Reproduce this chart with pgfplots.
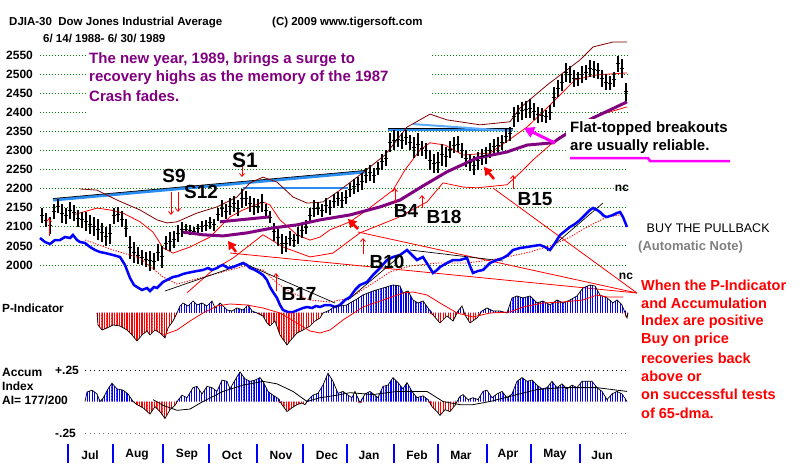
\documentclass[border=0pt]{standalone}
\usepackage{fontspec}
\setmainfont{Liberation Sans}
\usepackage{pgfplots}
\usepackage{pgfplotstable}
\pgfplotsset{compat=1.18}
\usetikzlibrary{arrows.meta,patterns}
\pgfdeclarepatternformonly{vlines}{\pgfqpoint{-0.8pt}{-0.6pt}}{\pgfqpoint{0.8pt}{3.6pt}}{\pgfqpoint{2.5pt}{3pt}}{%
 \pgfsetlinewidth{1.25pt}\pgfpathmoveto{\pgfqpoint{0pt}{-0.6pt}}\pgfpathlineto{\pgfqpoint{0pt}{3.6pt}}\pgfusepath{stroke}}
\definecolor{grd}{RGB}{0,128,0}
\definecolor{stb}{RGB}{40,140,240}
\definecolor{stb2}{RGB}{90,170,255}
\definecolor{pur}{RGB}{128,0,128}
\definecolor{mar}{RGB}{128,0,0}
\definecolor{mag}{RGB}{255,0,255}
\definecolor{ib}{RGB}{0,0,255}
\definecolor{gtx}{RGB}{128,128,128}
\newcommand\fs[1]{\fontsize{#1bp}{#1bp}\selectfont}
\pgfplotsset{ov/.style={at={(0,0)},anchor=south west,scale only axis,width=800bp,height=465bp,
  xmin=0,xmax=800,hide axis,clip=false,unbounded coords=jump},
  pix/.style={ov,ymin=0,ymax=465,y dir=reverse}}

\pgfplotstableread{
x h l
42 2150 2110
46 2135 2100
50 2125 2080
54 2160 2120
58 2172 2135
62 2160 2110
66 2150 2108
70 2166 2120
74 2158 2115
78 2145 2100
82 2140 2098
86 2140 2090
90 2130 2082
94 2126 2075
98 2120 2066
102 2110 2060
106 2100 2050
110 2108 2055
114 2150 2108
118 2153 2112
122 2140 2100
126 2120 2073
130 2075 2015
134 2060 2005
138 2046 2002
142 2040 2000
146 2035 1995
150 2037 1985
154 2030 1988
158 2055 2010
162 2050 1993
166 2075 2040
170 2086 2037
174 2090 2045
178 2105 2060
182 2113 2073
186 2108 2080
190 2105 2078
194 2100 2078
198 2108 2082
202 2115 2086
206 2117 2090
210 2126 2095
214 2120 2090
218 2150 2115
222 2170 2125
226 2160 2120
230 2175 2130
234 2180 2140
238 2170 2128
242 2200 2150
246 2195 2155
250 2180 2140
254 2175 2130
258 2172 2135
262 2185 2140
266 2160 2126
270 2140 2110
274 2110 2064
278 2095 2050
282 2082 2029
286 2075 2035
290 2090 2050
294 2080 2046
298 2100 2055
302 2110 2070
306 2117 2080
310 2150 2110
314 2170 2125
318 2165 2130
322 2160 2125
326 2175 2135
330 2170 2130
334 2185 2150
338 2192 2155
342 2190 2150
346 2196 2160
350 2215 2178
354 2225 2185
358 2230 2190
362 2240 2195
366 2255 2215
370 2262 2220
374 2255 2215
378 2270 2235
382 2290 2250
386 2300 2260
390 2345 2295
394 2353 2300
398 2350 2310
402 2345 2305
406 2353 2315
410 2340 2300
414 2335 2280
418 2345 2285
422 2325 2285
426 2320 2278
430 2300 2250
434 2290 2240
438 2295 2242
442 2318 2260
446 2310 2257
450 2325 2280
454 2335 2293
458 2338 2295
462 2320 2280
466 2300 2257
470 2290 2245
474 2285 2235
478 2295 2250
482 2305 2262
486 2310 2265
490 2320 2280
494 2330 2290
498 2335 2293
502 2340 2300
506 2355 2320
510 2362 2325
514 2414 2362
518 2420 2375
522 2427 2380
526 2430 2385
530 2435 2385
534 2425 2380
538 2414 2372
542 2410 2375
546 2405 2372
550 2420 2380
554 2466 2414
558 2485 2440
562 2500 2455
566 2530 2480
570 2520 2477
574 2510 2466
578 2505 2470
582 2520 2477
586 2525 2485
590 2537 2492
594 2533 2490
598 2530 2488
602 2510 2465
606 2500 2458
610 2495 2458
614 2505 2465
618 2548 2505
622 2540 2490
626 2477 2430
}\bars

\pgfplotstableread{
x p
97 0
98 -12
102 -17
107 -15
113 -12
120 -13
127 -17
132 -22
137 -28
142 -22
147 -18
150 -22
155 -17
160 -20
165 -25
168 -15
173 -8
177 0
180 7
183 10
188 7
193 12
197 8
202 10
207 7
212 12
215 5
220 10
227 3
232 2
237 5
243 3
248 8
252 2
257 0
263 -3
267 -10
270 -13
275 -8
280 -22
287 -32
290 -28
297 -20
303 -17
310 -13
315 -8
320 -5
323 0
330 3
335 7
340 7
347 8
350 10
357 14
363 18
373 22
383 25
393 28
400 27
403 20
408 22
413 13
418 10
423 12
428 5
433 -2
440 -10
447 -3
453 -8
458 2
462 7
465 -2
470 -10
477 -5
482 2
487 5
493 2
500 2
507 0
512 15
517 17
523 15
530 17
537 10
543 12
550 8
557 13
563 10
570 13
577 17
583 25
590 28
595 27
600 18
607 15
613 10
617 13
622 8
627 -5
628 0
}\pind

\pgfplotstableread{
x a
85 0
87 0.075
92 0.09
97 0.06
100 0
103 0.025
108 0.1
112 0.145
117 0.1
123 0.09
128 0.06
133 0
137 -0.025
143 -0.05
150 -0.1
155 -0.04
160 -0.08
165 -0.135
170 -0.065
175 -0.03
178 0.01
182 0.05
187 0.03
193 0.11
197 0.12
202 0.06
207 0.12
212 0.11
217 0.08
222 0.17
227 0.16
230 0.1
235 0.17
240 0.235
245 0.18
250 0.16
255 0.17
260 0.19
263 0.16
268 0.08
273 0.05
278 0.025
282 -0.025
287 -0.08
292 -0.05
297 -0.025
302 -0.012
305 -0.025
308 0.012
313 0.05
318 0.065
323 0.13
328 0.225
333 0.16
338 0.065
343 0.08
348 0.05
352 0.03
355 0.08
360 -0.01
365 0.06
370 0.08
378 0.03
383 0.12
388 0.13
393 0.19
398 0.15
403 0.1
407 0.15
412 0.08
417 0.03
423 0.045
428 0.015
432 -0.04
437 -0.08
440 -0.11
445 -0.065
450 -0.08
455 -0.03
460 0.04
463 0.055
468 0.015
473 0.03
478 0.015
483 0.08
487 0.09
492 0.03
497 0.06
502 0.08
507 0.03
512 0.06
517 0.16
522 0.19
527 0.16
532 0.17
537 0.13
542 0.1
547 0.11
552 0.16
557 0.11
562 0.14
567 0.1
572 0.13
577 0.11
582 0.16
587 0.16
592 0.16
597 0.11
602 0.08
607 0.015
612 0.06
617 0.08
622 0.06
627 0
}\aind

\begin{document}
\begin{tikzpicture}
\useasboundingbox (0,0) rectangle (800bp,465bp);
% ---------------- price axis ----------------
\begin{axis}[ov,ymin=1476,ymax=2694]
\addplot[grd,line width=0.8bp,dash pattern=on 1bp off 2bp] coordinates {
(40,2000) (628,2000) (628,nan) (40,2050) (628,2050) (628,nan) (40,2100) (628,2100) (628,nan)
(40,2150) (628,2150) (628,nan) (40,2200) (628,2200) (628,nan) (40,2250) (628,2250) (628,nan)
(40,2300) (628,2300) (628,nan) (40,2350) (628,2350) (628,nan)
(40,2400) (88,2400) (88,nan) (432,2400) (628,2400) (628,nan)
(40,2450) (88,2450) (88,nan) (432,2450) (628,2450) (628,nan)
(40,2500) (88,2500) (88,nan) (432,2500) (628,2500) (628,nan)
(40,2550) (88,2550) (88,nan) (432,2550) (628,2550)};
\addplot[stb,line width=3bp] coordinates {(53,2170) (367,2244)};
\addplot[black,line width=0.7bp] coordinates {(53,2174) (367,2248)};
\addplot[stb,line width=2.5bp] coordinates {(243,2202) (348,2202)};
\addplot[stb,line width=2.5bp] coordinates {(388,2354) (513,2354)};
\addplot[black,line width=0.7bp] coordinates {(388,2357) (513,2357)};
\addplot[stb2,line width=2bp] coordinates {(413,2369) (510,2351)};
\addplot[mar,line width=0.8bp] coordinates {(80,2199) (97,2196) (117,2170) (140,2144) (157,2118) (167,2110) (177,2113) (197,2136) (217,2152) (237,2178) (250,2215) (263,2230) (277,2217) (293,2178) (307,2162) (323,2165) (340,2196) (360,2236) (385,2288) (407,2361) (430,2395) (447,2380) (480,2367) (510,2375) (520,2411) (533,2440) (547,2471) (563,2503) (580,2537) (593,2571) (613,2584) (627,2584)};
\addplot[red,line width=0.8bp] coordinates {(73,2131) (97,2149) (110,2144) (123,2136) (140,2113) (153,2086) (163,2045) (173,2031) (190,2047) (210,2073) (230,2126) (243,2144) (263,2165) (270,2157) (280,2118) (297,2079) (310,2065) (320,2073) (330,2092) (350,2113) (367,2144) (380,2170) (393,2196) (405,2249) (420,2301) (430,2320) (445,2314) (463,2288) (490,2293) (513,2335) (527,2361) (545,2406) (560,2445) (575,2485) (597,2498) (627,2503)};
\addplot[red,line width=0.8bp] coordinates {(187,1927) (213,1987) (233,2018) (263,2079) (283,2047) (310,2021) (333,2031) (360,2084) (397,2123) (427,2165) (443,2215) (463,2204) (477,2202) (507,2210) (520,2241) (533,2275) (550,2314) (570,2354) (593,2388) (627,2414)};
\addplot[only marks,mark=-,mark size=1.8bp,black,mark options={line width=0.9bp},
  error bars/.cd,y dir=both,y explicit,error mark=none,error bar style={line width=1.1bp,black}]
  table[x=x,y expr={(\thisrow{h}+\thisrow{l})/2},y error expr={(\thisrow{h}-\thisrow{l})/2}] {\bars};
\addplot[pur,line width=3bp] coordinates {(183,2086) (203,2079) (223,2076) (247,2084) (273,2097) (297,2105) (320,2118) (350,2131) (380,2152) (400,2170) (423,2207) (447,2244) (477,2280) (507,2296) (527,2314) (553,2320) (560,2333) (593,2385) (627,2427)};
\addplot[pur,line width=3bp] coordinates {(220,2113) (270,2126)};
\end{axis}

% ---------------- pixel overlay ----------------
\begin{axis}[pix]
\addplot[red,line width=0.8bp] coordinates {(230,253) (637,293)};
\addplot[red,line width=0.8bp] coordinates {(358,232) (637,293)};
\addplot[red,line width=0.8bp] coordinates {(493,188) (637,293)};
\addplot[red,line width=0.9bp,dash pattern=on 1.2bp off 1.5bp] coordinates {(85,240) (113,250) (140,258) (163,277) (177,284) (200,278) (230,270) (245,266) (263,270) (277,283) (290,292) (310,300) (330,302) (350,298) (370,285) (390,272) (410,266) (437,263) (467,263) (490,260) (507,257) (530,252) (553,245) (570,237) (587,227) (607,217) (620,215)};
\addplot[black,line width=0.7bp] coordinates {(165,291) (243,264)};
\addplot[black,line width=0.7bp] coordinates {(243,263) (335,303)};
\addplot[black,line width=0.7bp] coordinates {(348,300) (407,250)};
\addplot[black,line width=0.7bp] coordinates {(410,250) (503,261)};
\addplot[black,line width=0.7bp] coordinates {(547,251) (603,203)};
\addplot[ib,line width=2.5bp] coordinates {(40,238) (45,242) (50,244) (55,240) (60,240) (65,237) (70,238) (73,235) (77,240) (80,242) (85,243) (90,247) (95,250) (100,252) (105,253) (113,255) (120,257) (125,265) (130,278) (134,285) (137,287) (142,290) (147,288) (150,291) (154,287) (157,288) (160,285) (163,282) (167,280) (173,277) (178,276) (183,274) (187,273) (192,272) (197,271) (203,270) (208,268) (212,270) (217,268) (220,266) (223,265) (228,268) (233,267) (238,265) (243,263) (247,265) (250,268) (255,270) (260,273) (263,275) (267,280) (270,287) (273,292) (277,298) (280,305) (283,310) (288,312) (293,312) (298,310) (303,308) (307,307) (312,308) (316,306) (320,307) (325,305) (330,305) (335,307) (340,305) (345,300) (350,297) (355,290) (360,285) (367,282) (373,275) (380,268) (387,260) (393,257) (400,255) (407,250) (412,255) (417,260) (423,257) (428,265) (433,273) (437,270) (440,267) (447,263) (453,260) (460,260) (467,258) (470,266) (473,273) (478,271) (483,270) (487,266) (490,263) (497,260) (503,258) (508,255) (513,250) (520,248) (527,247) (533,246) (540,245) (545,247) (550,250) (555,243) (560,235) (565,231) (570,227) (575,224) (580,220) (584,216) (587,213) (590,210) (593,208) (597,210) (600,212) (604,216) (607,217) (610,216) (613,215) (617,213) (620,212) (623,217) (627,227)};
\addplot[red,line width=0.8bp,-{Straight Barb[length=3bp,width=5bp]}] coordinates {(49,236) (49,218)};
\addplot[red,line width=0.8bp,-{Straight Barb[length=3bp,width=5bp]}] coordinates {(171,192) (171,215)};
\addplot[red,line width=0.8bp,-{Straight Barb[length=3bp,width=5bp]}] coordinates {(178,192) (178,212)};
\addplot[red,line width=0.8bp,-{Straight Barb[length=3bp,width=5bp]}] coordinates {(242,165) (242,177)};
\addplot[red,line width=0.8bp,-{Straight Barb[length=3bp,width=5bp]}] coordinates {(276,291) (276,273)};
\addplot[red,line width=0.8bp,-{Straight Barb[length=3bp,width=5bp]}] coordinates {(363,254) (363,238)};
\addplot[red,line width=0.8bp,-{Straight Barb[length=3bp,width=5bp]}] coordinates {(395,203) (395,188)};
\addplot[red,line width=0.8bp,-{Straight Barb[length=3bp,width=5bp]}] coordinates {(422,208) (422,195)};
\addplot[red,line width=0.8bp,-{Straight Barb[length=3bp,width=5bp]}] coordinates {(513,189) (513,175)};
\addplot[red,line width=2.5bp,-{Triangle[length=8bp,width=9bp]}] coordinates {(236,252) (228,241)};
\addplot[red,line width=2.5bp,-{Triangle[length=8bp,width=9bp]}] coordinates {(358,229) (348,219)};
\addplot[red,line width=2.5bp,-{Triangle[length=8bp,width=9bp]}] coordinates {(494,179) (484,167)};
\addplot[mag,line width=3bp,-{Triangle[length=10bp,width=11bp]}] coordinates {(555,143) (524,128)};
\addplot[mag,line width=2.5bp] coordinates {(570,158) (648,158) (650,161) (730,161)};
\addplot[ib,line width=1.2bp] coordinates {(68,444) (68,463) (68,nan) (113,444) (113,463) (113,nan) (163,444) (163,463) (163,nan) (209,444) (209,463) (209,nan) (257,444) (257,463) (257,nan) (303,444) (303,463) (303,nan) (347,444) (347,463) (347,nan) (394,444) (394,463) (394,nan) (438,444) (438,463) (438,nan) (487,444) (487,463) (487,nan) (531,444) (531,463) (531,nan) (580,444) (580,463)};
\addplot[black,line width=0.8bp,dash pattern=on 1bp off 3.5bp] coordinates {(85,370) (628,370)};
\addplot[gtx,line width=0.8bp,dash pattern=on 1bp off 3.5bp] coordinates {(85,433) (628,433)};
\end{axis}

% ---------------- P-Indicator ----------------
\begin{axis}[ov,ymin=-152,ymax=313]
\addplot[draw=none,pattern=vlines,pattern color=ib] table[x=x,y expr={max(\thisrow{p},0)}] {\pind} -- cycle;
\addplot[draw=none,pattern=vlines,pattern color=red] table[x=x,y expr={min(\thisrow{p},0)}] {\pind} -- cycle;
\addplot[black,line width=0.7bp] table[x=x,y=p] {\pind};
\addplot[red,line width=0.8bp] coordinates {(163,-22) (177,-17) (190,-8) (203,0) (217,7) (230,9) (247,8) (263,5) (280,0) (297,-10) (310,-18) (320,-20) (330,-17) (343,-7) (363,6) (383,13) (403,20) (413,21) (427,18) (440,10) (457,0) (473,-4) (490,0) (510,1) (523,6) (543,10) (563,11) (583,13) (597,18) (607,16) (623,16)};
\end{axis}

% ---------------- Accumulation Index ----------------
\begin{axis}[ov,ymin=-0.504,ymax=3.187]
\addplot[draw=none,pattern=vlines,pattern color=ib] table[x=x,y expr={max(\thisrow{a},0)}] {\aind} -- cycle;
\addplot[draw=none,pattern=vlines,pattern color=red] table[x=x,y expr={min(\thisrow{a},0)}] {\aind} -- cycle;
\addplot[black,line width=0.7bp] table[x=x,y=a] {\aind};
\addplot[black,line width=0.8bp] coordinates {(153,0.015) (163,-0.03) (177,-0.07) (190,-0.06) (203,0) (223,0.08) (243,0.13) (263,0.16) (277,0.14) (293,0.08) (307,0) (320,0.03) (337,0.05) (350,0.07) (373,0.055) (397,0.08) (427,0.08) (443,0) (460,-0.025) (473,-0.025) (490,0) (517,0.055) (537,0.095) (563,0.11) (597,0.11) (627,0.08)};
\end{axis}

% ---------------- texts ----------------
\begin{axis}[pix]
\addplot[draw=none] coordinates {(0,0) (800,465)};
\node[anchor=west,inner sep=0] at (axis cs:9,23) {\fs{11.5}\bfseries DJIA-30\ \ Dow Jones Industrial Average};
\node[anchor=west,inner sep=0] at (axis cs:272,23) {\fs{11.5}\bfseries (C) 2009 www.tigersoft.com};
\node[anchor=west,inner sep=0] at (axis cs:43,38) {\fs{11.5}\bfseries 6/ 14/ 1988- 6/ 30/ 1989};
\node[anchor=west,inner sep=0] at (axis cs:6,55) {\fs{12}\bfseries 2550};
\node[anchor=west,inner sep=0] at (axis cs:6,74) {\fs{12}\bfseries 2500};
\node[anchor=west,inner sep=0] at (axis cs:6,93) {\fs{12}\bfseries 2450};
\node[anchor=west,inner sep=0] at (axis cs:6,112) {\fs{12}\bfseries 2400};
\node[anchor=west,inner sep=0] at (axis cs:6,131.4) {\fs{12}\bfseries 2350};
\node[anchor=west,inner sep=0] at (axis cs:6,150.5) {\fs{12}\bfseries 2300};
\node[anchor=west,inner sep=0] at (axis cs:6,169.6) {\fs{12}\bfseries 2250};
\node[anchor=west,inner sep=0] at (axis cs:6,188.6) {\fs{12}\bfseries 2200};
\node[anchor=west,inner sep=0] at (axis cs:6,207.7) {\fs{12}\bfseries 2150};
\node[anchor=west,inner sep=0] at (axis cs:6,226.8) {\fs{12}\bfseries 2100};
\node[anchor=west,inner sep=0] at (axis cs:6,245.9) {\fs{12}\bfseries 2050};
\node[anchor=west,inner sep=0] at (axis cs:6,265) {\fs{12}\bfseries 2000};
\node[anchor=west,inner sep=0,text=pur] at (axis cs:89,60) {\fs{15}\bfseries The new year, 1989, brings a surge to};
\node[anchor=west,inner sep=0,text=pur] at (axis cs:89,78) {\fs{15}\bfseries recovery highs as the memory of the 1987};
\node[anchor=west,inner sep=0,text=pur] at (axis cs:89,96) {\fs{15}\bfseries Crash fades.};
\node[anchor=north west,fill=white,inner sep=0,minimum width=168bp,minimum height=33bp] at (axis cs:566,119) {};
\node[anchor=west,inner sep=0] at (axis cs:570,129) {\fs{15}\bfseries Flat-topped breakouts};
\node[anchor=west,inner sep=0] at (axis cs:570,147) {\fs{15}\bfseries are usually reliable.};
\node[inner sep=0] at (axis cs:174,176) {\fs{19}\bfseries S9};
\node[inner sep=0] at (axis cs:245,160) {\fs{21}\bfseries S1};
\node[inner sep=0] at (axis cs:201,192) {\fs{19}\bfseries S12};
\node[inner sep=0] at (axis cs:406,211) {\fs{19}\bfseries B4};
\node[inner sep=0] at (axis cs:444,217) {\fs{19}\bfseries B18};
\node[inner sep=0] at (axis cs:535,199) {\fs{19}\bfseries B15};
\node[inner sep=0] at (axis cs:387,262) {\fs{19}\bfseries B10};
\node[inner sep=0] at (axis cs:299,294) {\fs{19}\bfseries B17};
\node[inner sep=0] at (axis cs:622,188) {\fs{12}\bfseries nc};
\node[inner sep=0] at (axis cs:626,276) {\fs{12}\bfseries nc};
\node[anchor=west,inner sep=0] at (axis cs:643,228) {\fs{12.5} BUY THE PULLBACK};
\node[anchor=west,inner sep=0,text=gtx] at (axis cs:638,247) {\fs{13}\bfseries (Automatic Note)};
\node[anchor=west,inner sep=0,text=red] at (axis cs:641,285) {\fs{14.5}\bfseries When the P-Indicator};
\node[anchor=west,inner sep=0,text=red] at (axis cs:641,303.3) {\fs{14.5}\bfseries and Accumulation};
\node[anchor=west,inner sep=0,text=red] at (axis cs:641,321.6) {\fs{14.5}\bfseries Index are positive};
\node[anchor=west,inner sep=0,text=red] at (axis cs:641,339.9) {\fs{14.5}\bfseries Buy on price};
\node[anchor=west,inner sep=0,text=red] at (axis cs:641,358.2) {\fs{14.5}\bfseries recoveries back};
\node[anchor=west,inner sep=0,text=red] at (axis cs:641,376.5) {\fs{14.5}\bfseries above or};
\node[anchor=west,inner sep=0,text=red] at (axis cs:641,394.8) {\fs{14.5}\bfseries on successful tests};
\node[anchor=west,inner sep=0,text=red] at (axis cs:641,413.1) {\fs{14.5}\bfseries of 65-dma.};
\node[anchor=west,inner sep=0] at (axis cs:2,308) {\fs{11.8}\bfseries P-Indicator};
\node[anchor=west,inner sep=0] at (axis cs:2,372) {\fs{12}\bfseries Accum};
\node[anchor=west,inner sep=0] at (axis cs:2,386) {\fs{12}\bfseries Index};
\node[anchor=west,inner sep=0] at (axis cs:2,400) {\fs{12}\bfseries AI= 177/200};
\node[anchor=west,inner sep=0] at (axis cs:55,370) {\fs{12}\bfseries +.25};
\node[anchor=west,inner sep=0] at (axis cs:55,433) {\fs{12}\bfseries -.25};
\node[inner sep=0] at (axis cs:90,455) {\fs{12}\bfseries Jul};
\node[inner sep=0] at (axis cs:137,455) {\fs{12}\bfseries Aug};
\node[inner sep=0] at (axis cs:187,455) {\fs{12}\bfseries Sep};
\node[inner sep=0] at (axis cs:232,455) {\fs{12}\bfseries Oct};
\node[inner sep=0] at (axis cs:281,455) {\fs{12}\bfseries Nov};
\node[inner sep=0] at (axis cs:327,455) {\fs{12}\bfseries Dec};
\node[inner sep=0] at (axis cs:369,455) {\fs{12}\bfseries Jan};
\node[inner sep=0] at (axis cs:417,455) {\fs{12}\bfseries Feb};
\node[inner sep=0] at (axis cs:461,455) {\fs{12}\bfseries Mar};
\node[inner sep=0] at (axis cs:508,455) {\fs{12}\bfseries Apr};
\node[inner sep=0] at (axis cs:555,455) {\fs{12}\bfseries May};
\node[inner sep=0] at (axis cs:602,455) {\fs{12}\bfseries Jun};
\end{axis}
\end{tikzpicture}
\end{document}
